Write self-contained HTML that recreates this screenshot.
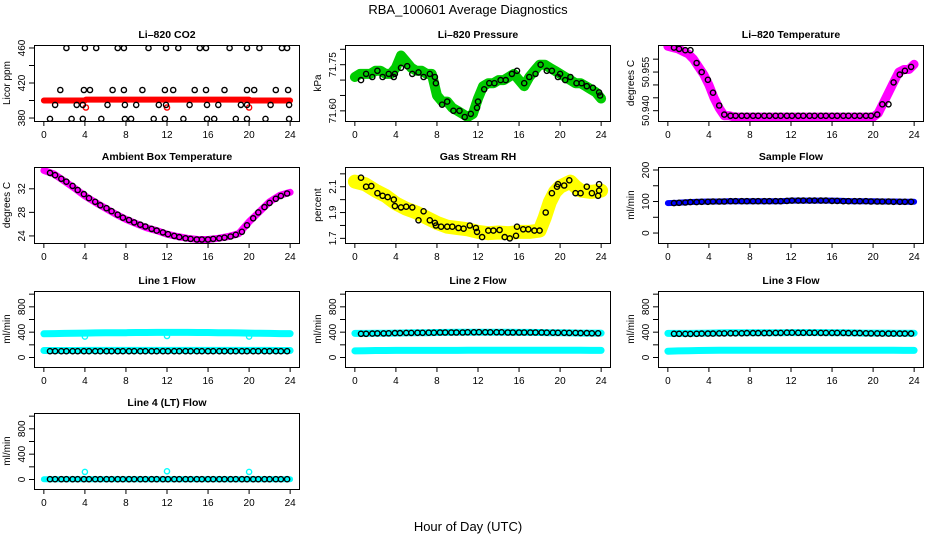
<!DOCTYPE html>
<html><head><meta charset="utf-8">
<style>
html,body{margin:0;padding:0;background:#fff;}
svg{display:block;font-family:"Liberation Sans",Arial,sans-serif;}
</style></head>
<body>
<svg id="chart" width="936" height="540" viewBox="0 0 936 540">
<text x="468" y="14" text-anchor="middle" font-size="13">RBA_100601  Average Diagnostics</text>
<text x="468" y="531" text-anchor="middle" font-size="13">Hour of Day (UTC)</text>
</svg>
<script>
// ---- data ----
const xTicks = [0, 4, 8, 12, 16, 20, 24];
const hours43 = [0.6,1.1,1.7,2.2,2.8,3.3,3.9,4.4,5.0,5.5,6.1,6.6,7.2,7.7,8.3,8.8,9.4,9.9,10.5,11.0,11.6,12.1,12.7,13.2,13.8,14.3,14.9,15.4,16.0,16.5,17.1,17.6,18.2,18.7,19.3,19.8,20.4,20.9,21.5,22.0,22.6,23.1,23.7];
const hoursHalf = [0,0.5,1,1.5,2,2.5,3,3.5,4,4.5,5,5.5,6,6.5,7,7.5,8,8.5,9,9.5,10,10.5,11,11.5,12,12.5,13,13.5,14,14.5,15,15.5,16,16.5,17,17.5,18,18.5,19,19.5,20,20.5,21,21.5,22,22.5,23,23.5,24];
const hoursFull = [0,1,2,3,4,5,6,7,8,9,10,11,12,13,14,15,16,17,18,19,20,21,22,23,24];

// CO2
const co2BandH = [0,4,4.1,12,20,20.1,24];
const co2Band = [400,400,401,401,401,400,400];
const co2OutH = [4.1,12.0,20.0];
const co2Out = [392,392,392];
const co2PtsH = [2.2,4.0,5.1,7.2,7.8,10.2,11.9,13.1,15.2,15.8,18.1,19.8,21.0,23.2,23.7,
 1.6,3.9,4.5,6.7,7.8,9.6,11.8,12.6,14.7,15.8,17.6,19.8,20.5,22.6,23.8,
 1.1,3.2,3.8,6.2,7.9,9.0,11.2,11.9,14.2,15.9,17.0,19.2,19.8,22.1,23.9,
 0.6,2.7,3.8,5.6,7.9,8.5,10.7,11.8,13.6,15.9,16.6,18.7,19.8,21.6,23.9];
const co2Pts = [460,460,460,460,460,460,460,460,460,460,460,460,460,460,460,
 412,412,412,412,412,412,412,412,412,412,412,412,412,412,412,
 395,395,395,395,395,395,395,395,395,395,395,395,395,395,395,
 379,379,379,379,379,379,379,379,379,379,379,379,379,379,379];

// Pressure
const presBand = [71.71,71.72,71.72,71.72,71.73,71.73,71.72,71.72,71.74,71.78,71.76,71.74,71.73,71.73,71.72,71.72,71.65,71.63,71.63,71.61,71.60,71.59,71.58,71.59,71.64,71.68,71.69,71.69,71.70,71.70,71.71,71.72,71.70,71.68,71.71,71.73,71.75,71.75,71.74,71.73,71.72,71.71,71.70,71.69,71.69,71.68,71.67,71.66,71.64];
const presPtsH = [0.6,1.1,1.7,2.2,2.7,3.3,3.8,3.9,4.5,5.1,5.6,6.2,6.7,7.3,7.8,7.9,8.5,9.0,9.6,10.2,10.7,11.3,11.9,12.0,12.6,13.1,13.6,14.2,14.7,15.3,15.8,16.5,17.0,17.6,18.1,18.7,19.2,19.8,20.0,20.5,21.0,21.6,22.1,22.6,23.2,23.8,23.9];
const presPts = [71.70,71.72,71.71,71.73,71.71,71.72,71.71,71.72,71.74,71.745,71.72,71.725,71.71,71.72,71.71,71.69,71.62,71.63,71.60,71.60,71.58,71.59,71.61,71.63,71.67,71.69,71.69,71.70,71.70,71.72,71.73,71.69,71.71,71.72,71.75,71.73,71.73,71.71,71.72,71.70,71.71,71.69,71.69,71.68,71.675,71.66,71.65];

// Li-820 temperature
const tempBand = [50.965,50.9645,50.964,50.963,50.962,50.960,50.957,50.954,50.950,50.945,50.941,50.938,50.938,50.9375,50.9375,50.9375,50.9375,50.9375,50.9375,50.9375,50.9375,50.9375,50.9375,50.9375,50.9375,50.9375,50.9375,50.9375,50.9375,50.9375,50.9375,50.9375,50.9375,50.9375,50.9375,50.9375,50.9375,50.9375,50.9375,50.9375,50.9375,50.939,50.943,50.947,50.951,50.955,50.956,50.956,50.958];
const tempPts = [50.9645,50.964,50.9635,50.9635,50.9585,50.955,50.952,50.947,50.942,50.9385,50.938,50.938,50.938,50.938,50.938,50.938,50.938,50.938,50.938,50.938,50.938,50.938,50.938,50.938,50.938,50.938,50.938,50.938,50.938,50.938,50.938,50.938,50.938,50.938,50.938,50.938,50.9385,50.9425,50.9425,50.951,50.954,50.9555,50.957];

// Ambient box temperature
const ambBand = [35.1,34.5,33.3,32.1,30.8,29.7,28.7,27.7,26.8,26.1,25.4,24.9,24.3,23.9,23.6,23.4,23.4,23.6,23.9,24.4,26.4,28.1,29.8,30.9,31.4];
const ambPts = [34.7,34.3,33.7,33.2,32.5,31.8,31.1,30.4,29.8,29.2,28.7,28.2,27.6,27.1,26.7,26.3,25.9,25.6,25.2,24.9,24.6,24.3,24.0,23.8,23.6,23.5,23.4,23.4,23.4,23.5,23.6,23.7,23.9,24.2,24.7,25.8,27.0,28.0,28.9,29.6,30.3,30.8,31.2];

// Gas stream RH
const rhBandH = [0,1,2,3,4,5,6,7,8,9,10,11,12,13,14,15,16,17,18,18.5,19,19.5,20,20.5,21,21.5,22,23,24];
const rhBand = [2.14,2.12,2.07,2.03,1.97,1.93,1.90,1.86,1.82,1.79,1.78,1.77,1.75,1.74,1.745,1.74,1.75,1.75,1.76,1.86,1.98,2.06,2.10,2.12,2.14,2.10,2.07,2.06,2.07];
const rhPtsH = [0.6,1.1,1.6,2.2,2.7,3.2,3.8,3.9,4.5,5.0,5.6,6.2,6.7,7.3,7.8,7.9,8.4,9.0,9.5,10.1,10.6,11.2,11.8,11.9,12.4,13.0,13.5,14.1,14.6,15.1,15.7,15.8,16.4,16.9,17.5,18.0,18.6,19.2,19.7,19.8,20.4,20.9,21.5,22.0,22.6,23.1,23.7,23.8,23.8];
const rhPts = [2.17,2.10,2.105,2.05,2.03,2.02,2.00,1.95,1.94,1.945,1.94,1.84,1.91,1.84,1.82,1.80,1.79,1.79,1.79,1.78,1.775,1.80,1.78,1.75,1.71,1.76,1.76,1.765,1.71,1.70,1.72,1.79,1.77,1.77,1.76,1.76,1.90,2.05,2.10,2.12,2.11,2.15,2.05,2.05,2.10,2.05,2.03,2.12,2.07];

// Sample flow
const sampBand = [95,96,98,99,100,100,101,101,101,101,101,101,103,103,103,103,103,102,101,101,101,100,100,99,99];
const sampPts = [95,96,97,98,98,99,99,100,100,100,101,101,101,101,101,101,101,101,101,101,102,103,103,103,103,103,103,103,102,102,101,101,101,101,101,100,100,100,100,99,99,99,99];

// Line flows
const l1TopBand = [375,378,380,382,385,388,390,390,392,394,395,396,397,396,396,395,394,392,390,388,385,382,380,378,378];
const l1LowBand = [110,110,110,110,112,112,112,112,112,112,112,112,112,112,112,112,112,112,112,112,112,112,112,110,110];
const l1OutH = [4.0,12.0,20.0];
const l1Out = [330,340,330];
const l1Pts = [100,100,100,100,100,100,100,100,100,100,100,100,100,100,100,100,100,100,100,100,100,100,100,100,100,100,100,100,100,100,100,100,100,100,100,100,100,100,100,100,100,100,100];
const l2TopBand = [380,380,382,384,386,388,390,392,394,396,398,398,400,400,398,398,397,396,395,392,390,388,386,385,385];
const l2LowBand = [105,108,110,110,112,112,112,112,112,112,112,115,115,115,115,115,115,115,115,115,115,115,115,112,112];
const l2Pts = [375,375,378,380,380,382,385,385,388,388,390,390,392,392,395,395,395,395,395,398,398,400,398,398,398,398,395,395,395,395,395,395,395,392,392,390,390,388,388,385,385,382,382];
const l3TopBand = [380,380,380,382,385,388,390,390,392,392,392,392,393,393,393,393,392,390,388,386,385,385,384,384,384];
const l3LowBand = [100,105,108,110,112,115,115,115,115,115,115,115,115,115,115,115,115,115,115,115,115,115,115,112,112];
const l3Pts = [375,375,372,372,375,378,378,378,380,380,382,382,382,385,385,385,385,385,388,388,392,392,390,390,390,390,388,388,388,388,388,385,385,385,382,380,380,378,378,378,378,378,378];
const l4Band = [5,5,5,5,5,5,5,5,5,5,5,5,5,5,5,5,5,5,5,5,5,5,5,5,5];
const l4OutH = [4.0,12.0,20.0];
const l4Out = [120,130,120];
const l4Pts = [5,5,5,5,5,5,5,5,5,5,5,5,5,5,5,5,5,5,5,5,5,5,5,5,5,5,5,5,5,5,5,5,5,5,5,5,5,5,5,5,5,5,5];

// ---- drawing ----
const NS = "http://www.w3.org/2000/svg";
const svg = document.getElementById("chart");
const colL = [34, 345, 658], rowT = [45, 167, 291, 413], BW = 266, BH = 76;
const XMIN = -0.96, XMAX = 24.96;

function mk(tag, attrs, parent) {
  const e = document.createElementNS(NS, tag);
  for (const k in attrs) e.setAttribute(k, attrs[k]);
  (parent || svg).appendChild(e);
  return e;
}

function panel(p) {
  const L = colL[p.col], T = rowT[p.row];
  const g = mk("g", {});
  
  
  const sx = h => L + (h - XMIN) / (XMAX - XMIN) * BW;
  const sy = v => T + BH - (v - p.ylim[0]) / (p.ylim[1] - p.ylim[0]) * BH;

  const title = mk("text", {x: L + BW / 2, y: T - 7, "text-anchor": "middle", "font-size": "10.5", "font-weight": "bold"}, g);
  title.textContent = p.title;
  
  

  // x axis
  const xa = mk("g", {stroke: "#000", "stroke-width": "1"}, g);
  
  
  mk("line", {x1: sx(xTicks[0]), x2: sx(xTicks[xTicks.length - 1]), y1: T + BH + 0.5, y2: T + BH + 0.5}, xa);
  xTicks.forEach(t => {
    mk("line", {x1: sx(t), x2: sx(t), y1: T + BH, y2: T + BH + 5}, xa);
    const tl = mk("text", {x: sx(t), y: T + BH + 17, "text-anchor": "middle", "font-size": "10", stroke: "none"}, xa);
    tl.textContent = t;
    
    
  });

  // y axis
  const ya = mk("g", {stroke: "#000", "stroke-width": "1"}, g);
  
  
  p.yticks.forEach(t => {
    mk("line", {x1: L - 5, x2: L, y1: sy(t), y2: sy(t)}, ya);
  });
  p.ylabels.forEach((t, i) => {
    const tx = L - 9, ty = sy(t);
    const tl = mk("text", {x: tx, y: ty, "text-anchor": "middle", "font-size": "10", stroke: "none", transform: `rotate(-90 ${tx} ${ty})`}, ya);
    tl.textContent = p.ylabelText ? p.ylabelText[i] : t;
    
    
  });
  const yl = L - 24, ym = T + BH / 2;
  const ylab = mk("text", {x: yl, y: ym, "text-anchor": "middle", "font-size": "10", transform: `rotate(-90 ${yl} ${ym})`}, g);
  ylab.textContent = p.ylab;
  
  

  // clip
  const cid = "clip-" + p.name;
  const cp = mk("clipPath", {id: cid}, g);
  mk("rect", {x: L, y: T, width: BW, height: BH}, cp);
  const dg = mk("g", {"clip-path": `url(#${cid})`}, g);

  (p.bands || []).forEach(b => {
    const pts = b.h.map((h, i) => sx(h).toFixed(1) + "," + sy(b.v[i]).toFixed(1)).join(" ");
    const pl = mk("polyline", {points: pts, fill: "none", stroke: b.color, "stroke-width": b.w, "stroke-linejoin": "round", "stroke-linecap": "round"}, dg);
    
    
  });
  (p.pts || []).forEach(s => {
    s.h.forEach((h, i) => {
      const c = mk("circle", {cx: sx(h).toFixed(1), cy: sy(s.v[i]).toFixed(1), r: 2.6, fill: "none", stroke: s.color, "stroke-width": s.sw || 1.4}, dg);
      
      
    });
  });

  const box = mk("rect", {x: L + 0.5, y: T + 0.5, width: BW - 1, height: BH, fill: "none", stroke: "#000", "stroke-width": "1"}, g);
  
  
}

const flowTicks = [0, 200, 400, 600, 800, 1000];
const flowLabels = [0, 400, 800];

panel({name: "co2", col: 0, row: 0, title: "Li\u2013820 CO2", ylab: "Licor ppm", ylim: [376.6, 463.4],
  yticks: [380, 400, 420, 440, 460], ylabels: [380, 420, 460],
  bands: [{h: co2BandH, v: co2Band, color: "#ff0000", w: 6, label: "red-band"}],
  pts: [{h: co2OutH, v: co2Out, color: "#ff0000", label: "red-point"}, {h: co2PtsH, v: co2Pts, color: "#000", label: "black-point"}]});

panel({name: "pressure", col: 1, row: 0, title: "Li\u2013820 Pressure", ylab: "kPa", ylim: [71.567, 71.814],
  yticks: [71.60, 71.65, 71.70, 71.75, 71.80], ylabels: [71.60, 71.75], ylabelText: ["71.60", "71.75"],
  bands: [{h: hoursHalf, v: presBand, color: "#00cc00", w: 10, label: "green-band"}],
  pts: [{h: presPtsH, v: presPts, color: "#000", label: "black-point"}]});

panel({name: "li820-temp", col: 2, row: 0, title: "Li\u2013820 Temperature", ylab: "degrees C", ylim: [50.936, 50.9655],
  yticks: [50.940, 50.945, 50.950, 50.955, 50.960], ylabels: [50.940, 50.955], ylabelText: ["50.940", "50.955"],
  bands: [{h: hoursHalf, v: tempBand, color: "#ff00ff", w: 9, label: "magenta-band"}],
  pts: [{h: hours43, v: tempPts, color: "#000", label: "black-point"}]});

panel({name: "ambient", col: 0, row: 1, title: "Ambient Box Temperature", ylab: "degrees C", ylim: [22.8, 35.7],
  yticks: [24, 28, 32], ylabels: [24, 28, 32],
  bands: [{h: hoursFull, v: ambBand, color: "#ff00ff", w: 7, label: "magenta-band"}],
  pts: [{h: hours43, v: ambPts, color: "#000", label: "black-point"}]});

panel({name: "rh", col: 1, row: 1, title: "Gas Stream RH", ylab: "percent", ylim: [1.664, 2.253],
  yticks: [1.7, 1.8, 1.9, 2.0, 2.1, 2.2], ylabels: [1.7, 1.9, 2.1], ylabelText: ["1.7", "1.9", "2.1"],
  bands: [{h: rhBandH, v: rhBand, color: "#ffff00", w: 14, label: "yellow-band"}],
  pts: [{h: rhPtsH, v: rhPts, color: "#000", label: "black-point"}]});

panel({name: "sample-flow", col: 2, row: 1, title: "Sample Flow", ylab: "ml/min", ylim: [-31.6, 209.5],
  yticks: [0, 50, 100, 150, 200], ylabels: [0, 100, 200],
  bands: [{h: hoursFull, v: sampBand, color: "#0000ff", w: 6, label: "blue-band"}],
  pts: [{h: hours43, v: sampPts, color: "#000", label: "black-point"}]});

panel({name: "line1-flow", col: 0, row: 2, title: "Line 1 Flow", ylab: "ml/min", ylim: [-150, 1050],
  yticks: flowTicks, ylabels: flowLabels,
  bands: [{h: hoursFull, v: l1TopBand, color: "#00ffff", w: 7, label: "cyan-band-upper"}, {h: hoursFull, v: l1LowBand, color: "#00ffff", w: 7, label: "cyan-band-lower"}],
  pts: [{h: l1OutH, v: l1Out, color: "#00ffff", label: "cyan-point"}, {h: hours43, v: l1Pts, color: "#000", label: "black-point"}]});

panel({name: "line2-flow", col: 1, row: 2, title: "Line 2 Flow", ylab: "ml/min", ylim: [-150, 1050],
  yticks: flowTicks, ylabels: flowLabels,
  bands: [{h: hoursFull, v: l2TopBand, color: "#00ffff", w: 7, label: "cyan-band-upper"}, {h: hoursFull, v: l2LowBand, color: "#00ffff", w: 7, label: "cyan-band-lower"}],
  pts: [{h: hours43, v: l2Pts, color: "#000", label: "black-point"}]});

panel({name: "line3-flow", col: 2, row: 2, title: "Line 3 Flow", ylab: "ml/min", ylim: [-150, 1050],
  yticks: flowTicks, ylabels: flowLabels,
  bands: [{h: hoursFull, v: l3TopBand, color: "#00ffff", w: 7, label: "cyan-band-upper"}, {h: hoursFull, v: l3LowBand, color: "#00ffff", w: 7, label: "cyan-band-lower"}],
  pts: [{h: hours43, v: l3Pts, color: "#000", label: "black-point"}]});

panel({name: "line4-flow", col: 0, row: 3, title: "Line 4 (LT) Flow", ylab: "ml/min", ylim: [-150, 1050],
  yticks: flowTicks, ylabels: flowLabels,
  bands: [{h: hoursFull, v: l4Band, color: "#00ffff", w: 6, label: "cyan-band"}],
  pts: [{h: l4OutH, v: l4Out, color: "#00ffff", label: "cyan-point"}, {h: hours43, v: l4Pts, color: "#000", label: "black-point"}]});
</script>
</body></html>
